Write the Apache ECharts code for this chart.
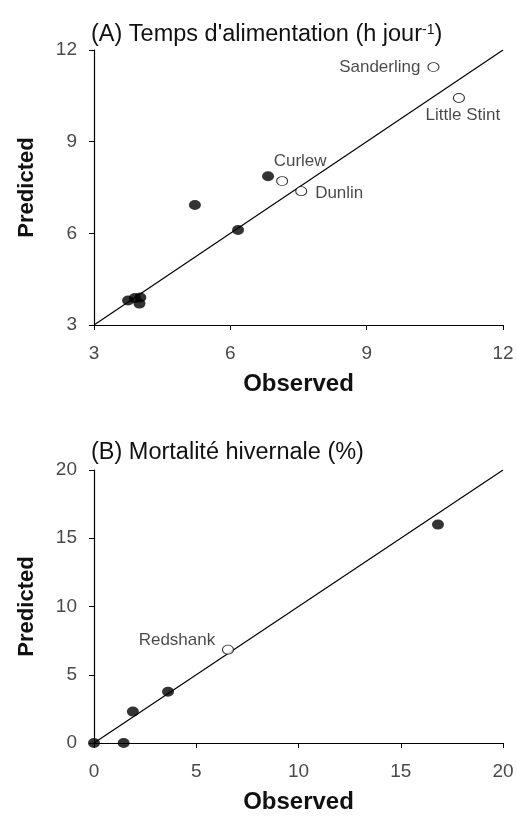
<!DOCTYPE html>
<html>
<head>
<meta charset="utf-8">
<script src="https://cdn.jsdelivr.net/npm/echarts@6/dist/echarts.min.js"></script>
<style>
html,body{margin:0;padding:0;background:#fff;}
#chart{width:517px;height:821px;}
</style>
</head>
<body>
<div id="chart"></div>
<script>
// ---- data ----
const ticksA = [3, 6, 9, 12];
const ticksB = [0, 5, 10, 15, 20];
const filledA = [[6.83, 7.87], [5.22, 6.93], [6.17, 6.11], [3.75, 3.8], [3.9, 3.88], [4.02, 3.9], [4.0, 3.7]];
const openA = [[7.14, 7.71], [7.56, 7.38], [10.47, 11.44], [11.03, 10.43]];
const openNamesA = ['Curlew', 'Dunlin', 'Sanderling', 'Little Stint'];
const lineA = [[3, 3], [12, 12]];
const filledB = [[0, 0], [1.45, 0], [1.9, 2.3], [3.62, 3.75], [16.82, 16.0]];
const openB = [[6.55, 6.84]];
const openNamesB = ['Redshank'];
const lineB = [[0, 0], [20, 20]];
const titleA = "(A) Temps d'alimentation (h jour{sup|-1})";
const titleB = '(B) Mortalité hivernale (%)';
const xNames = ['Observed', 'Observed'];
const yNames = ['Predicted', 'Predicted'];

// ---- styles ----
const FONT = '"Liberation Sans", Arial, sans-serif';
const labelPos = {
  'Curlew': {position: 'inside', offset: [18, -20]},
  'Dunlin': {position: 'inside', offset: [38, 2]},
  'Sanderling': {position: 'left', distance: 7},
  'Little Stint': {position: 'inside', offset: [4, 17]},
  'Redshank': {position: 'inside', offset: [-51, -9]}
};

function axis(ticks, gridIndex, name, isY) {
  return {
    type: 'value', gridIndex: gridIndex,
    min: ticks[0], max: ticks[ticks.length - 1], interval: ticks[1] - ticks[0],
    name: name, nameLocation: 'middle',
    nameGap: isY ? 56 : 47,
    nameTextStyle: {fontFamily: FONT, fontWeight: 'bold', fontSize: isY ? 22 : 24, color: '#111'},
    axisLine: {show: true, onZero: false, lineStyle: {color: '#000', width: 1.2}},
    axisTick: {show: true, length: 5, lineStyle: {color: '#000', width: 1}},
    axisLabel: {fontFamily: FONT, fontSize: 19, color: '#4a4a4a', margin: isY ? 17 : 19},
    splitLine: {show: false}
  };
}

function openData(pts, names) {
  return pts.map(function (p, i) {
    const lp = labelPos[names[i]];
    return {
      name: names[i], value: p,
      label: Object.assign({show: true, formatter: '{b}', fontFamily: FONT, fontSize: 17, color: '#1a1a1a'}, lp)
    };
  });
}

function lineSeries(data, idx) {
  return {type: 'line', xAxisIndex: idx, yAxisIndex: idx, data: data, showSymbol: false, symbol: 'none',
    lineStyle: {color: '#000', width: 1.2}, z: 1, silent: true};
}
function filledSeries(data, idx) {
  return {type: 'scatter', xAxisIndex: idx, yAxisIndex: idx, data: data, symbol: 'circle',
    symbolSize: [12, 10], itemStyle: {color: '#000'}, clip: false, z: 3};
}
function openSeries(data, idx) {
  return {type: 'scatter', xAxisIndex: idx, yAxisIndex: idx, data: data, symbol: 'circle',
    symbolSize: [11, 9], itemStyle: {color: '#fff', borderColor: '#000', borderWidth: 1}, clip: false, z: 3};
}

const chart = echarts.init(document.getElementById('chart'), null, {renderer: 'canvas'});
chart.setOption({
  backgroundColor: '#fff',
  animation: false,
  title: [
    {text: titleA, left: 91, top: 23, padding: 0,
      textStyle: {fontFamily: FONT, fontSize: 23.5, fontWeight: 'normal', color: '#111',
        rich: {sup: {fontFamily: FONT, fontSize: 14, color: '#111', padding: [0, 0, 9, 0]}}}},
    {text: titleB, left: 91, top: 441, padding: 0,
      textStyle: {fontFamily: FONT, fontSize: 23.5, fontWeight: 'normal', color: '#111'}}
  ],
  grid: [
    {left: 94, top: 50, width: 409, height: 275},
    {left: 94, top: 470, width: 409, height: 273}
  ],
  xAxis: [axis(ticksA, 0, xNames[0], false), axis(ticksB, 1, xNames[1], false)],
  yAxis: [axis(ticksA, 0, yNames[0], true), axis(ticksB, 1, yNames[1], true)],
  series: [
    lineSeries(lineA, 0),
    filledSeries(filledA, 0),
    openSeries(openData(openA, openNamesA), 0),
    lineSeries(lineB, 1),
    filledSeries(filledB, 1),
    openSeries(openData(openB, openNamesB), 1)
  ]
});
</script>
</body>
</html>
